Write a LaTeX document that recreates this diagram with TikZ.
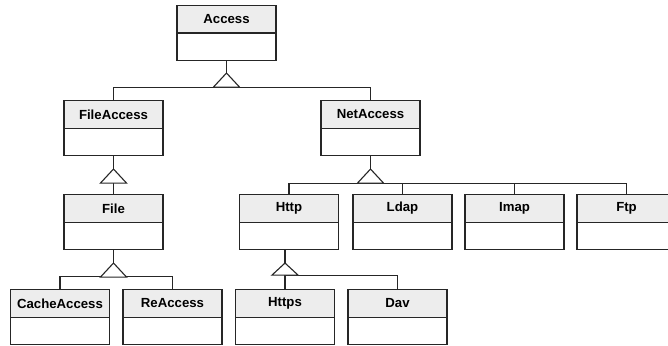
\documentclass[tikz,border=0pt]{standalone}
\usepackage{fontspec}
\setmainfont{Liberation Sans}
\usepackage{tikz}
\usetikzlibrary{positioning,calc}
\tikzstyle{classhead}=[draw=black!85,fill=black!7,minimum width=99pt,minimum height=27.5pt,inner sep=0pt,anchor=north,font=\fontsize{13.2}{15}\selectfont\bfseries]
\tikzstyle{classbody}=[draw=black!85,fill=white,minimum width=99pt,minimum height=27pt,inner sep=0pt,outer sep=0pt]
\tikzstyle{inherit}=[draw=black!85,fill=white]

\begin{document}
\begin{tikzpicture}[x=1pt,y=1pt,line width=1.1pt]
\useasboundingbox (0,0) rectangle (668,-345);
\clip (0,0) rectangle (668,-345);
% classes
\node [classhead] (access) at (226.5,-5) {Access};
\node [classbody, below=-0.55pt of access] (access-b) {};
\node [classhead] (fileaccess) at (113.5,-100) {FileAccess};
\node [classbody, below=-0.55pt of fileaccess] (fileaccess-b) {};
\node [classhead] (netaccess) at (370.5,-100) {NetAccess};
\node [classbody, below=-0.55pt of netaccess] (netaccess-b) {};
\node [classhead] (file) at (113.5,-194) {File};
\node [classbody, below=-0.55pt of file] (file-b) {};
\node [classhead] (http) at (289,-194) {Http};
\node [classbody, below=-0.55pt of http] (http-b) {};
\node [classhead] (ldap) at (402.5,-194) {Ldap};
\node [classbody, below=-0.55pt of ldap] (ldap-b) {};
\node [classhead] (imap) at (514.5,-194) {Imap};
\node [classbody, below=-0.55pt of imap] (imap-b) {};
\node [classhead] (ftp) at (626.5,-194) {Ftp};
\node [classbody, below=-0.55pt of ftp] (ftp-b) {};
\node [classhead] (cacheaccess) at (60,-289) {CacheAccess};
\node [classbody, below=-0.55pt of cacheaccess] (cacheaccess-b) {};
\node [classhead] (reaccess) at (172.5,-289) {ReAccess};
\node [classbody, below=-0.55pt of reaccess] (reaccess-b) {};
\node [classhead] (https) at (285,-289) {Https};
\node [classbody, below=-0.55pt of https] (https-b) {};
\node [classhead] (dav) at (397.5,-289) {Dav};
\node [classbody, below=-0.55pt of dav] (dav-b) {};

% triangle tips and bases
\coordinate (t-access) at ($(access-b.south)+(0,-13)$);
\coordinate (b-access) at ($(t-access)+(0,-14)$);
\coordinate (t-fileaccess) at ($(fileaccess-b.south)+(0,-14)$);
\coordinate (b-fileaccess) at ($(t-fileaccess)+(0,-14)$);
\coordinate (t-netaccess) at ($(netaccess-b.south)+(0,-14)$);
\coordinate (b-netaccess) at ($(t-netaccess)+(0,-14)$);
\coordinate (t-file) at ($(file-b.south)+(0,-14)$);
\coordinate (b-file) at ($(t-file)+(0,-13)$);
\coordinate (t-http) at ($(https.north |- http-b.south)+(0,-14)$);
\coordinate (b-http) at ($(t-http)+(0,-12)$);

% generalisations
\draw [black!85] (access-b) -- (t-access);
\draw [black!85] (fileaccess.north) |- (b-access) -| (netaccess.north);
\draw [black!85] (fileaccess-b) -- (t-fileaccess);
\draw [black!85] (file.north) -- (b-fileaccess);
\draw [black!85] (netaccess-b) -- (t-netaccess);
\draw [black!85] (http.north) |- (b-netaccess) -| (ftp.north);
\draw [black!85] (ldap.north) -- (ldap.north |- b-netaccess);
\draw [black!85] (imap.north) -- (imap.north |- b-netaccess);
\draw [black!85] (file-b) -- (t-file);
\draw [black!85] (cacheaccess.north) |- (b-file) -| (reaccess.north);
\draw [black!85] (https.north |- http-b.south) -- (t-http);
\draw [black!85] (https.north) |- (b-http) -| (dav.north);

\foreach \t in {access,fileaccess,netaccess,file}
  \draw [inherit] (t-\t) -- ++(-13,-14) -- ++(26,0) -- cycle;
\draw [inherit] (t-http) -- ++(-13,-12) -- ++(26,0) -- cycle;
\end{tikzpicture}
\end{document}
